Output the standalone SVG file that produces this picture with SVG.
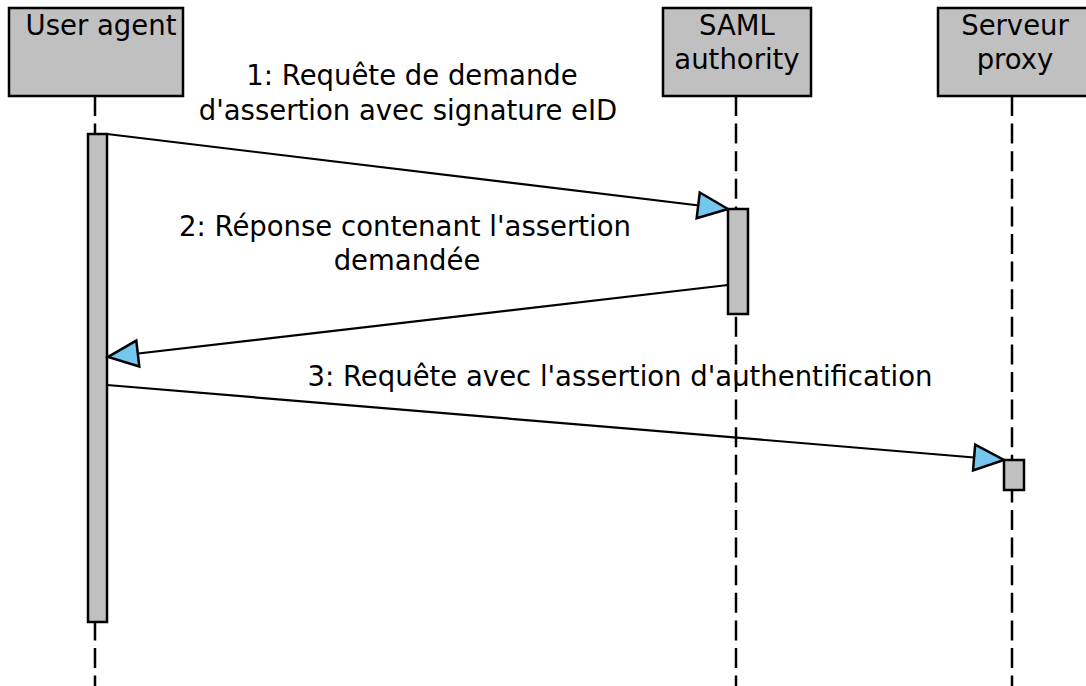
<svg xmlns="http://www.w3.org/2000/svg" width="1086" height="686" viewBox="0 0 1086 686">
<style>
.head{fill:#c0c0c0;stroke:#000;stroke-width:2.5}
.act{fill:#c0c0c0;stroke:#000;stroke-width:2.5}
.life{stroke:#000;stroke-width:2.5;stroke-dasharray:20 7.6;fill:none}
.msg{stroke:#000;stroke-width:2.2;fill:none;marker-end:url(#arr)}
text{font-family:"DejaVu Sans","Liberation Sans",sans-serif;font-size:27.5px;fill:#000;text-anchor:middle}
</style>
<defs>
<marker id="arr" markerUnits="userSpaceOnUse" viewBox="0 0 30 26" refX="30" refY="13" markerWidth="30" markerHeight="26" orient="auto" overflow="visible">
<path d="M0,0 L30,13 L0,26 Z" fill="#74c7ef" stroke="#000" stroke-width="2.5" stroke-linejoin="miter"/>
</marker>
</defs>
<g id="lifelines">
<line class="life" x1="95" y1="96" x2="95" y2="686"/>
<line class="life" x1="736" y1="96" x2="736" y2="686"/>
<line class="life" x1="1012" y1="96" x2="1012" y2="686"/>
</g>
<g id="user-agent">
<rect class="head" x="9" y="8" width="174" height="88"/>
<text x="101" y="35">User agent</text>
<rect class="act" x="88" y="134" width="19" height="488"/>
</g>
<g id="saml-authority">
<rect class="head" x="663" y="8" width="148" height="88"/>
<text x="737" y="35">SAML</text>
<text x="737" y="69">authority</text>
<rect class="act" x="728" y="209" width="20" height="105"/>
</g>
<g id="serveur-proxy">
<rect class="head" x="938" y="8" width="150" height="88"/>
<text x="1015" y="35">Serveur</text>
<text x="1015" y="69">proxy</text>
<rect class="act" x="1004" y="460" width="20" height="30"/>
</g>
<g id="connectors">
<line class="msg" x1="107" y1="134" x2="728" y2="209"/>
<line class="msg" x1="728" y1="285" x2="108" y2="357"/>
<line class="msg" x1="107" y1="385" x2="1004" y2="460"/>
</g>
<g id="labels">
<text x="412" y="85">1: Requête de demande</text>
<text x="408" y="120">d'assertion avec signature eID</text>
<text x="405" y="236">2: Réponse contenant l'assertion</text>
<text x="407" y="270">demandée</text>
<text x="620" y="386">3: Requête avec l'assertion d'authentification</text>
</g>
</svg>
